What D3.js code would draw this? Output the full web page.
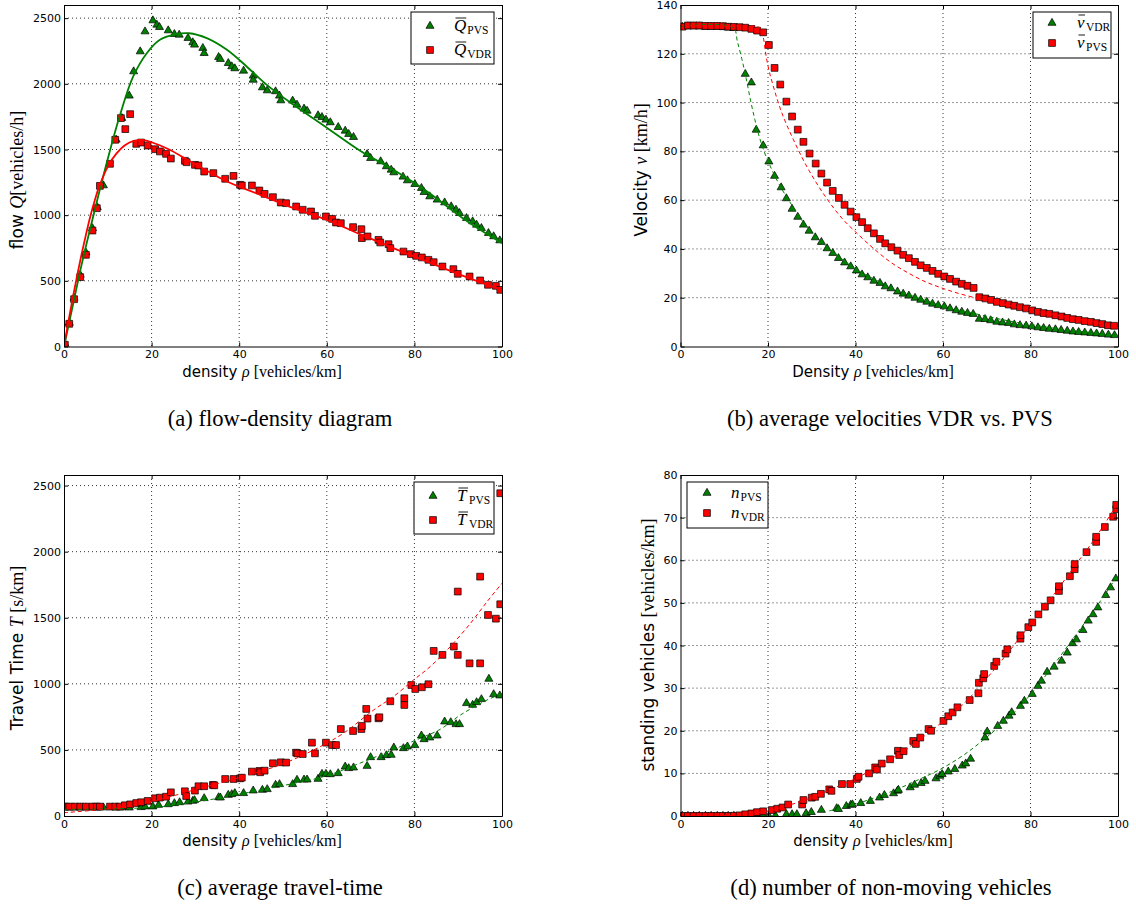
<!DOCTYPE html>
<html><head><meta charset="utf-8">
<script src="https://cdn.jsdelivr.net/npm/d3@7"></script>
<style>body{margin:0;background:#fff}svg{display:block}</style>
</head><body>
<svg id="chart" width="1136" height="905"></svg>
<script>
// ---------- tick values ----------
const densityTicks = [0,20,40,60,80,100];
const flowTicks = [0,500,1000,1500,2000,2500];
const velocityTicks = [0,20,40,60,80,100,120,140];
const timeTicks = [0,500,1000,1500,2000,2500];
const standingTicks = [0,10,20,30,40,50,60,70,80];

// ---------- (a) flow ----------
const flowPVS = [[0.3,15],[1.2,180],[2.3,370],[3.7,545],[5.0,715],[6.5,900],[7.6,1060],[9.0,1226],[11.9,1574],[13.2,1739],[14.9,1909],[15.9,2094],[17.4,2246],[18.5,2398],[20.3,2482],[21.2,2449],[21.8,2431],[23.8,2406],[25.2,2378],[26.3,2373],[28.3,2348],[29.4,2315],[29.8,2297],[31.7,2272],[32.0,2233],[35.3,2203],[35.7,2188],[37.5,2157],[38.3,2132],[39.0,2117],[41.0,2099],[43.2,2061],[43.2,2030],[45.3,1972],[46.4,1949],[48.3,1942],[49.2,1909],[49.5,1873],[52.2,1871],[53.2,1840],[54.8,1810],[55.5,1794],[58.0,1759],[58.9,1746],[59.8,1726],[60.8,1706],[62.6,1670],[64.2,1642],[65.0,1617],[66.1,1594],[69.2,1464],[70.0,1434],[72.3,1409],[73.6,1371],[74.7,1345],[75.3,1325],[77.4,1292],[78.4,1264],[80.1,1236],[81.6,1206],[82.2,1175],[83.5,1142],[85.2,1117],[86.9,1096],[88.4,1066],[89.5,1041],[90.3,1015],[91.9,977],[93.3,952],[94.2,926],[95.3,901],[96.9,863],[98.1,838],[99.5,807]];
const flowVDR = [[0.2,13],[1.2,173],[2.3,360],[3.7,528],[5.0,698],[6.5,883],[7.5,1053],[8.2,1223],[10.5,1391],[11.7,1574],[13.0,1739],[14.0,1655],[15.1,1769],[16.5,1543],[17.6,1553],[19.1,1530],[20.8,1502],[21.9,1485],[23.3,1467],[24.4,1431],[27.6,1414],[28.0,1403],[29.9,1383],[30.7,1378],[32.0,1332],[34.1,1320],[36.8,1277],[38.7,1299],[40.2,1231],[40.6,1226],[42.9,1226],[44.6,1188],[45.8,1162],[47.7,1137],[49.5,1096],[50.7,1091],[53.0,1066],[54.5,1041],[56.4,1028],[57.3,995],[59.8,990],[61.2,972],[62.1,944],[63.2,939],[66.0,909],[67.9,893],[68.0,825],[69.3,838],[71.8,812],[72.2,792],[74.1,779],[74.5,749],[77.5,723],[79.2,703],[80.4,690],[81.7,678],[83.2,660],[84.4,642],[86.4,609],[88.9,589],[89.9,553],[92.6,533],[95.0,503],[96.8,470],[98.6,462],[99.6,431]];
const flowPVSFit = [[0,0],[2,310],[4,620],[6,900],[8,1170],[10,1430],[12.8,1764],[15.8,2056],[18.9,2233],[21.9,2335],[25.7,2378],[28.5,2385],[32.6,2348],[37.2,2259],[41.7,2132],[46.3,1992],[52.4,1840],[60,1665],[67.6,1490],[75.2,1345],[82.9,1180],[90.5,990],[95,888],[100,787]];
const flowVDRFit = [[0,0],[1,190],[2,370],[3,540],[4,700],[5,850],[6,990],[7,1110],[8,1215],[10,1370],[12,1470],[14,1535],[16,1565],[18,1572],[20,1555],[24,1500],[29.5,1396],[37.2,1256],[44.8,1155],[52.4,1053],[60,964],[67.6,855],[75.2,749],[82.9,647],[90.5,546],[100,431]];

// ---------- (b) velocity ----------
const velVDR = [[0.4,131],[1.7,131.2],[3.0,131.2],[4.3,131.2],[5.7,131],[7.0,131],[8.4,131],[9.7,130.9],[10.9,130.7],[12.2,130.5],[14.8,111.7],[16.2,108.2],[17.3,88.8],[18.9,82.4],[20.2,75.8],[21.5,69.9],[23.0,65.2],[24.2,60.7],[25.5,56.4],[26.8,53.1],[28.1,49.9],[29.4,47.4],[30.8,44.7],[32.2,42.8],[33.5,40.2],[34.8,38.3],[36.1,36.2],[37.5,34.4],[38.9,32.8],[40.2,31.1],[41.5,29.5],[42.8,28.3],[44.2,26.9],[45.6,26.0],[46.8,24.6],[48.1,23.8],[49.6,22.5],[50.9,21.6],[52.2,20.8],[53.6,19.9],[54.9,19.1],[56.3,18.3],[57.6,17.5],[58.9,16.9],[60.3,16.4],[61.6,15.6],[63.0,14.8],[64.3,14.2],[65.6,13.7],[66.9,13.3],[68.3,11.3],[69.6,11.2],[70.9,10.7],[72.3,10.1],[73.6,9.8],[75.0,9.6],[76.3,9.0],[77.6,8.7],[79.0,8.5],[80.3,8.2],[81.7,7.8],[83.0,7.5],[84.3,7.2],[85.7,7.0],[87.0,6.7],[88.4,6.4],[89.7,6.1],[91.0,5.9],[92.4,5.7],[93.8,5.5],[95.1,5.3],[96.4,5.1],[97.8,4.8],[99.2,4.6]];
const velPVS = [[0.4,131.1],[1.7,131.6],[3.0,131.6],[4.3,131.6],[5.7,131.4],[7.0,131.4],[8.4,131.4],[9.7,131.3],[10.9,131.1],[12.2,131.0],[13.5,130.9],[14.8,130.7],[16.2,130.2],[17.5,129.5],[18.9,128.8],[20.2,123.6],[21.5,114.2],[22.8,107.4],[24.2,100.4],[25.5,94.3],[26.8,88.9],[28.1,83.9],[29.5,79.1],[30.9,75.0],[32.2,70.9],[33.5,67.2],[34.8,63.8],[36.2,60.9],[37.5,58.1],[38.9,55.3],[40.2,53.0],[41.5,51.0],[42.8,48.5],[44.2,46.4],[45.6,44.1],[46.8,42.3],[48.2,40.7],[49.6,39.3],[50.9,37.6],[52.2,36.2],[53.6,34.7],[54.9,33.3],[56.3,32.2],[57.6,31.0],[58.9,29.8],[60.3,28.7],[61.6,27.7],[63.0,26.6],[64.3,25.7],[65.6,24.9],[67.0,24.0],[68.3,20.2],[69.7,19.7],[71.0,19.1],[72.3,18.3],[73.7,17.8],[75.0,17.2],[76.3,16.7],[77.6,16.1],[79.0,15.6],[80.4,14.8],[81.7,14.2],[83.0,13.7],[84.3,13.4],[85.7,12.8],[87.1,12.3],[88.4,11.7],[89.7,11.2],[91.0,10.9],[92.4,10.4],[93.8,10.1],[95.1,9.6],[96.4,9.2],[97.7,8.7],[99.1,8.5]];
const velVDRFit = [[0,131.3],[12,130.8],[13,125],[14,118],[15,110],[16,101],[17,93],[18,86],[19,80.5],[20,76],[21,72],[23,65],[26,56.5],[30,46.5],[35,38.5],[40,31.8],[45,27],[50,23],[55,19.5],[60,16.7],[65,14.4],[70,12.4],[75,10.5],[80,9],[85,7.6],[90,6.5],[95,5.5],[100,4.6]];
const velPVSFit = [[0,131.5],[10,131.3],[18.3,130.5],[19,126],[19.4,121],[20,115],[21,108],[23.2,95.6],[26.2,83.3],[29.3,72.4],[33.1,61.5],[36.9,52.6],[40.7,45.8],[44.5,39.6],[48.3,34.2],[52.1,30.1],[55.9,26.6],[59.7,24.0],[63.5,21.8],[67.3,20.0],[70,18.8],[75,16.9],[80,15.0],[85,13.2],[90,11.5],[95,9.8],[100,8.2]];

// ---------- (c) travel time ----------
const timePVS = [[0.3,64],[1.2,64],[2.3,64],[3.7,64],[5.0,64],[6.5,64],[7.6,64],[9.0,64],[11.9,64],[13.2,64],[14.9,63],[17.6,66],[18.5,71],[20.3,71],[21.6,83],[23.8,88],[25.2,96],[26.4,103],[28.3,108],[29.4,114],[29.8,119],[32.0,134],[35.3,141],[35.7,139],[37.5,159],[38.3,164],[39.0,172],[41.0,172],[43.2,192],[45.3,197],[46.4,202],[48.3,235],[49.2,240],[52.2,240],[53.2,273],[54.8,275],[55.5,275],[58.0,280],[58.9,318],[59.8,318],[60.8,315],[62.6,323],[64.2,373],[65.0,361],[66.1,366],[69.2,378],[70.0,444],[72.4,444],[73.6,459],[74.7,462],[75.3,517],[77.5,512],[78.4,525],[80.1,535],[81.6,608],[82.2,580],[83.5,593],[85.2,608],[86.9,714],[88.3,709],[89.5,694],[90.3,694],[91.9,853],[93.3,840],[94.2,860],[95.3,883],[97.0,1037],[98.1,921],[99.5,911]];
const timeVDR = [[0.2,71],[1.2,71],[2.5,71],[3.7,71],[5.0,71],[6.5,71],[7.5,71],[8.2,71],[10.5,71],[11.7,71],[12.8,71],[13.9,81],[15.1,88],[16.5,98],[17.6,104],[19.1,114],[20.8,134],[21.9,139],[23.3,146],[24.4,179],[27.6,187],[27.9,151],[29.9,192],[30.7,225],[32.0,225],[34.0,235],[34.3,232],[36.8,280],[38.7,280],[40.2,285],[40.6,290],[42.9,336],[44.6,341],[44.8,331],[45.8,343],[47.7,399],[49.5,406],[50.7,404],[53.0,479],[53.3,474],[54.5,469],[56.6,555],[57.3,474],[59.8,555],[61.2,537],[62.1,537],[63.2,658],[66.0,643],[67.9,658],[68.0,681],[69.0,810],[69.3,737],[71.8,739],[72.0,747],[74.5,868],[77.7,891],[77.7,840],[79.3,991],[80.2,961],[81.7,974],[83.2,997],[84.4,1249],[86.4,1219],[89.0,1282],[89.9,1219],[89.9,1698],[92.6,1155],[95.0,1155],[95.0,1811],[96.8,1521],[98.6,1493],[99.6,1602],[99.6,2442]];
const timePVSFit = [[0,50],[20,65],[30,105],[40,165],[50,230],[60,305],[67.6,400],[75,500],[80,570],[85.9,656],[90.5,764],[96.6,878],[100,925]];
const timeVDRFit = [[0,25],[10,55],[20,110],[30,200],[40,290],[50,395],[58.5,525],[63.8,626],[70.7,802],[75.2,903],[79.8,1029],[83.6,1130],[88.2,1282],[92.8,1458],[96.6,1622],[100,1761]];

// ---------- (d) standing vehicles ----------
const standPVS = [[0.4,0],[1.7,0],[3.0,0],[4.3,0],[5.7,0],[7.0,0],[8.4,0],[9.7,0],[10.9,0],[12.2,0],[14.8,0],[16.2,0],[17.5,0],[18.9,0],[20.2,0],[21.7,0.1],[24.2,0.4],[25.5,0.4],[26.6,0.4],[28.7,0.6],[29.9,0.9],[32.2,1.4],[35.7,1.8],[36.1,1.6],[37.9,2.3],[38.9,2.6],[39.3,2.7],[41.2,3.0],[43.4,3.5],[45.5,4.3],[46.6,4.9],[48.7,5.3],[49.6,5.9],[49.8,6.1],[52.5,6.7],[53.5,7.3],[55.0,7.7],[55.9,8.2],[58.4,8.8],[59.3,9.4],[59.8,9.8],[61.2,10.4],[62.7,11.0],[64.4,11.8],[65.2,12.3],[66.3,13.4],[69.6,18.4],[70.1,19.8],[72.5,21.1],[73.8,22.3],[75.1,23.5],[75.7,24.3],[77.7,25.8],[78.6,27.0],[80.4,28.6],[81.7,30.5],[82.5,31.7],[83.8,33.8],[85.4,35.0],[87.1,36.4],[88.4,38.3],[89.6,40.5],[90.5,41.4],[92.0,43.6],[93.2,45.8],[94.3,47.3],[95.4,48.9],[97.2,51.8],[98.3,53.6],[99.5,55.7]];
const standVDR = [[0.4,0],[1.7,0],[3.0,0],[4.3,0],[5.7,0],[7.0,0],[8.4,0],[9.7,0],[10.9,0],[12.2,0.05],[13.5,0.15],[14.8,0.4],[16.2,0.6],[17.5,0.9],[18.9,1.1],[20.9,1.4],[22.1,1.7],[23.3,2.0],[24.6,2.7],[27.8,2.7],[28.1,3.75],[30.0,4.3],[30.8,4.5],[32.1,5.2],[34.0,6.25],[34.5,5.9],[36.9,7.5],[38.8,7.5],[40.3,8.7],[40.7,9.2],[43.1,10.0],[44.5,11.4],[44.9,10.9],[46.0,12.3],[47.9,13.3],[49.7,15.3],[50.0,14.3],[51.0,15.2],[53.2,17.6],[53.8,16.9],[54.8,18.4],[56.7,20.4],[57.3,20.0],[60.1,22.3],[61.2,23.4],[62.2,24.3],[63.3,25.5],[66.1,27.2],[68.1,28.8],[68.2,31.25],[69.2,32.3],[69.4,33.3],[71.7,35.2],[72.2,36.2],[74.3,38.1],[74.7,39.1],[77.7,41.6],[77.7,42.4],[79.5,44.3],[80.4,45.4],[81.8,47.3],[83.3,49.1],[84.6,50.6],[86.5,52.8],[86.5,53.9],[89.0,56.25],[90.1,57.9],[90.1,59.1],[92.8,61.9],[95.0,64.3],[95.0,65.5],[97.0,67.8],[98.9,70.2],[99.6,72.0],[99.6,73.0]];
const standPVSFit = [[34,1.2],[40,2.8],[45,4.5],[50,6.5],[55,8.8],[60,11.3],[65,14.5],[70,18.5],[75,23],[80,28.5],[85,35],[90,42],[95,49],[100,56.5]];
const standVDRFit = [[0,0],[10,0.1],[15,0.4],[20,1.2],[25,2.6],[30,4.3],[35,6.5],[40,8.8],[45,11.5],[50,14.6],[55,18.2],[60,22.2],[65,26.6],[70,32.3],[75,38.5],[80,45],[85,51.5],[90,58.5],[95,65.5],[100,73.5]];

// ---------- drawing ----------
const svg = d3.select("#chart");
svg.append("rect").attr("width",1136).attr("height",905).attr("fill","#fff");
const GREEN = "#008000", RED = "#ff0000";
const SANS = "DejaVu Sans", SERIF = "Liberation Serif";
const triSym = d3.symbol().type(d3.symbolTriangle).size(28)();
const sqSym = d3.symbol().type(d3.symbolSquare).size(46)();
let clipId = 0;

function drawMarkers(g, data, x, y, sym, color) {
  g.selectAll(null).data(data).join("path")
    .attr("d", sym)
    .attr("transform", d => `translate(${x(d[0])},${y(d[1])})`)
    .attr("fill", color).attr("stroke", "#000").attr("stroke-width", 0.7);
}

function drawLegend(g, box, entries) {
  g.append("rect").attr("x", box.x).attr("y", box.y).attr("width", box.w).attr("height", box.h)
    .attr("fill", "#fff").attr("stroke", "#000").attr("stroke-width", 1);
  entries.forEach((e, i) => {
    const my = box.my[i];
    g.append("path").attr("d", e.sym).attr("transform", `translate(${box.mx},${my})`)
      .attr("fill", e.color).attr("stroke", "#000").attr("stroke-width", 0.7);
    const b = g.append("text").attr("x", box.tx).attr("y", my + 5)
      .attr("font-family", SERIF).attr("font-style", "italic").attr("font-size", 17).text(e.base);
    const bb = b.node().getBBox();
    g.append("text").attr("x", bb.x + bb.width + 1).attr("y", my + 8)
      .attr("font-family", SERIF).attr("font-size", 11.5).text(e.sub);
    if (e.bar) {
      g.append("line").attr("x1", bb.x + 1.5).attr("x2", bb.x + bb.width)
        .attr("y1", my - 8).attr("y2", my - 8).attr("stroke", "#000").attr("stroke-width", 0.9);
    }
  });
}

function panel(cfg) {
  const g = svg.append("g");
  const x = d3.scaleLinear().domain([0, 100]).range([cfg.left, cfg.right]);
  const y = d3.scaleLinear().domain([0, cfg.ymax]).range([cfg.bottom, cfg.top]);
  const id = "clip" + (clipId++);
  g.append("clipPath").attr("id", id).append("rect")
    .attr("x", cfg.left).attr("y", cfg.top).attr("width", cfg.right - cfg.left).attr("height", cfg.bottom - cfg.top);

  // grid
  g.selectAll(null).data(densityTicks.filter(v => v > 0 && v < 100)).join("line")
    .attr("x1", d => x(d)).attr("x2", d => x(d)).attr("y1", cfg.top).attr("y2", cfg.bottom)
    .attr("stroke", "#000").attr("stroke-width", 0.8).attr("stroke-dasharray", "1,3");
  g.selectAll(null).data(cfg.yTicks.filter(v => v > 0 && v < cfg.ymax)).join("line")
    .attr("y1", d => y(d)).attr("y2", d => y(d)).attr("x1", cfg.left).attr("x2", cfg.right)
    .attr("stroke", "#000").attr("stroke-width", 0.8).attr("stroke-dasharray", "1,3");

  const plot = g.append("g").attr("clip-path", `url(#${id})`);
  drawMarkers(plot, cfg.tri, x, y, triSym, GREEN);
  drawMarkers(plot, cfg.sq, x, y, sqSym, RED);
  const line = d3.line().x(d => x(d[0])).y(d => y(d[1])).curve(d3.curveCatmullRom.alpha(0.5));
  [[cfg.triFit, GREEN], [cfg.sqFit, RED]].forEach(([data, col]) => {
    plot.append("path").attr("d", line(data)).attr("fill", "none").attr("stroke", col)
      .attr("stroke-width", cfg.dashed ? 1 : 1.8)
      .attr("stroke-dasharray", cfg.dashed ? "4,3" : null);
  });

  // axes
  const styleAxis = sel => {
    sel.selectAll(".domain").attr("stroke", "#000").attr("stroke-width", 1);
    sel.selectAll(".tick line").attr("stroke", "#000");
    sel.selectAll("text").attr("font-family", SANS).attr("font-size", 11).attr("fill", "#000");
  };
  g.append("g").attr("transform", `translate(0,${cfg.bottom})`)
    .call(d3.axisBottom(x).tickValues(densityTicks).tickSizeInner(-4).tickSizeOuter(0).tickPadding(4).tickFormat(d3.format("d")))
    .call(styleAxis);
  g.append("g").attr("transform", `translate(0,${cfg.top})`)
    .call(d3.axisTop(x).tickValues(densityTicks).tickSizeInner(-4).tickSizeOuter(0).tickFormat(""))
    .call(styleAxis);
  g.append("g").attr("transform", `translate(${cfg.left},0)`)
    .call(d3.axisLeft(y).tickValues(cfg.yTicks).tickSizeInner(-4).tickSizeOuter(0).tickPadding(3).tickFormat(d3.format("d")))
    .call(styleAxis);
  g.append("g").attr("transform", `translate(${cfg.right},0)`)
    .call(d3.axisRight(y).tickValues(cfg.yTicks).tickSizeInner(-4).tickSizeOuter(0).tickFormat(""))
    .call(styleAxis);

  // x label
  const xl = g.append("text").attr("x", cfg.xlab[0]).attr("y", cfg.xlab[1]).attr("text-anchor", "middle");
  xl.append("tspan").attr("font-family", SANS).attr("font-size", 15).text(cfg.xword + " ");
  xl.append("tspan").attr("font-family", SERIF).attr("font-style", "italic").attr("font-size", 16).text("ρ");
  xl.append("tspan").attr("font-family", SERIF).attr("font-size", 16).text(" [vehicles/km]");

  // y label
  const yl = g.append("text").attr("transform", `translate(${cfg.ylab[0]},${cfg.ylab[1]}) rotate(-90)`).attr("text-anchor", "middle");
  yl.append("tspan").attr("font-family", SANS).attr("font-size", 17).text(cfg.yword);
  if (cfg.ysym) yl.append("tspan").attr("font-family", SERIF).attr("font-style", "italic").attr("font-size", 18).text(cfg.ysym);
  yl.append("tspan").attr("font-family", SERIF).attr("font-size", 18).text(cfg.yunit);

  // caption
  g.append("text").attr("x", cfg.cap[0]).attr("y", cfg.cap[1]).attr("text-anchor", "middle")
    .attr("font-family", SERIF).attr("font-size", 22.6).text(cfg.caption);

  drawLegend(g, cfg.legend, cfg.legendEntries);
}

panel({left:64,right:502,top:5,bottom:346.5,ymax:2600,yTicks:flowTicks,
  tri:flowPVS,sq:flowVDR,triFit:flowPVSFit,sqFit:flowVDRFit,dashed:false,
  xword:"density",xlab:[262,377],yword:"flow ",ysym:"Q",yunit:"[vehicles/h]",ylab:[23,180],
  cap:[280,426],caption:"(a) flow-density diagram",
  legend:{x:411,y:12,w:83,h:52,mx:430,my:[26,50],tx:454},
  legendEntries:[{sym:triSym,color:GREEN,base:"Q",sub:"PVS",bar:true},{sym:sqSym,color:RED,base:"Q",sub:"VDR",bar:true}]});

panel({left:680.5,right:1118,top:5,bottom:346.5,ymax:140,yTicks:velocityTicks,
  tri:velVDR,sq:velPVS,triFit:velVDRFit,sqFit:velPVSFit,dashed:true,
  xword:"Density",xlab:[873,377],yword:"Velocity ",ysym:"v",yunit:" [km/h]",ylab:[647,170],
  cap:[890,426],caption:"(b) average velocities VDR vs. PVS",
  legend:{x:1033,y:12,w:78,h:46,mx:1052,my:[23,43],tx:1077},
  legendEntries:[{sym:triSym,color:GREEN,base:"v",sub:"VDR",bar:true},{sym:sqSym,color:RED,base:"v",sub:"PVS",bar:true}]});

panel({left:64,right:502,top:475,bottom:816,ymax:2580,yTicks:timeTicks,
  tri:timePVS,sq:timeVDR,triFit:timePVSFit,sqFit:timeVDRFit,dashed:true,
  xword:"density",xlab:[262,846],yword:"Travel Time ",ysym:"T",yunit:" [s/km]",ylab:[23,648],
  cap:[280,895],caption:"(c) average travel-time",
  legend:{x:414,y:482,w:80,h:52,mx:433,my:[496,520],tx:457},
  legendEntries:[{sym:triSym,color:GREEN,base:"T",sub:"PVS",bar:true},{sym:sqSym,color:RED,base:"T",sub:"VDR",bar:true}]});

panel({left:680.5,right:1118,top:475,bottom:816,ymax:80,yTicks:standingTicks,
  tri:standPVS,sq:standVDR,triFit:standPVSFit,sqFit:standVDRFit,dashed:true,
  xword:"density",xlab:[873,846],yword:"standing vehicles ",ysym:null,yunit:"[vehicles/km]",ylab:[654,645],
  cap:[891,895],caption:"(d) number of non-moving vehicles",
  legend:{x:687,y:482,w:81,h:46,mx:707,my:[493,513],tx:731},
  legendEntries:[{sym:triSym,color:GREEN,base:"n",sub:"PVS",bar:false},{sym:sqSym,color:RED,base:"n",sub:"VDR",bar:false}]});
</script>
</body></html>
